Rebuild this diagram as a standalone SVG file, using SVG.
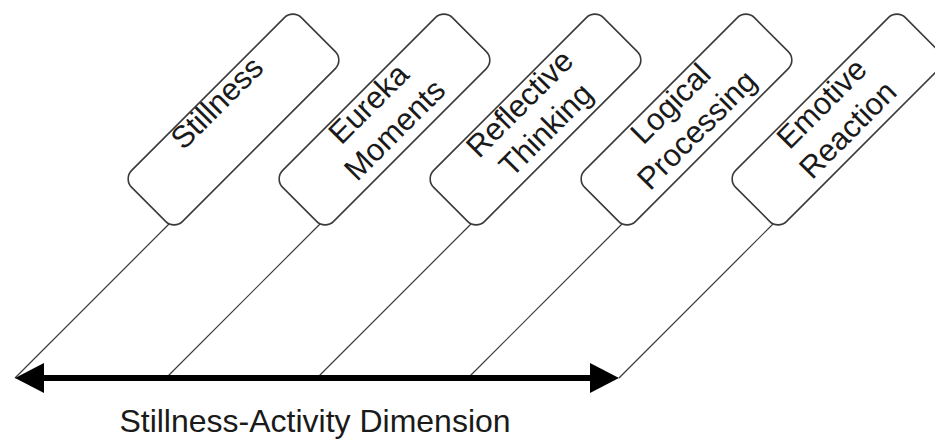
<svg xmlns="http://www.w3.org/2000/svg" width="935" height="439" viewBox="0 0 935 439">
  <style>
    .box { fill: #ffffff; stroke: #3a3a3a; stroke-width: 1.6; }
    .lbl { font-family: "Liberation Sans", Arial, sans-serif; font-size: 31px; fill: #1a1a1a; text-anchor: middle; }
    .conn { stroke: #3a3a3a; stroke-width: 1.2; fill: none; }
    .axis { stroke: #000000; stroke-width: 6; fill: none; }
    .head { fill: #000000; stroke: none; }
    .title { font-family: "Liberation Sans", Arial, sans-serif; font-size: 32px; fill: #1a1a1a; text-anchor: middle; }
  </style>
  <rect width="935" height="439" fill="#ffffff"/>
  <g id="connectors">
    <line class="conn" x1="170" y1="223" x2="15" y2="378"/>
    <line class="conn" x1="321" y1="223" x2="166" y2="378"/>
    <line class="conn" x1="472" y1="223" x2="317" y2="378"/>
    <line class="conn" x1="623" y1="223" x2="468" y2="378"/>
    <line class="conn" x1="774" y1="223" x2="619" y2="378"/>
    <line class="axis" x1="38" y1="378" x2="596" y2="378"/>
    <polygon class="head" points="15,378 44,363 44,393"/>
    <polygon class="head" points="619,378 590,363 590,393"/>
  </g>
  <g id="node-stillness" transform="translate(233.5,119.5) rotate(-45)">
    <rect class="box" x="-120" y="-36" width="240" height="72" rx="12" ry="12"/>
    <text class="lbl" x="0" y="-13">Stillness</text>
  </g>
  <g id="node-eureka" transform="translate(384.5,119.5) rotate(-45)">
    <rect class="box" x="-120" y="-36" width="240" height="72" rx="12" ry="12"/>
    <text class="lbl" x="0" y="-12">Eureka</text>
    <text class="lbl" x="0" y="25">Moments</text>
  </g>
  <g id="node-reflective" transform="translate(535.5,119.5) rotate(-45)">
    <rect class="box" x="-120" y="-36" width="240" height="72" rx="12" ry="12"/>
    <text class="lbl" x="0" y="-12">Reflective</text>
    <text class="lbl" x="0" y="25">Thinking</text>
  </g>
  <g id="node-logical" transform="translate(686.5,119.5) rotate(-45)">
    <rect class="box" x="-120" y="-36" width="240" height="72" rx="12" ry="12"/>
    <text class="lbl" x="0" y="-12">Logical</text>
    <text class="lbl" x="0" y="25">Processing</text>
  </g>
  <g id="node-emotive" transform="translate(837.5,119.5) rotate(-45)">
    <rect class="box" x="-120" y="-36" width="240" height="72" rx="12" ry="12"/>
    <text class="lbl" x="0" y="-12">Emotive</text>
    <text class="lbl" x="0" y="25">Reaction</text>
  </g>
  <g id="axis-label">
    <text class="title" x="315" y="432">Stillness-Activity Dimension</text>
  </g>
</svg>
